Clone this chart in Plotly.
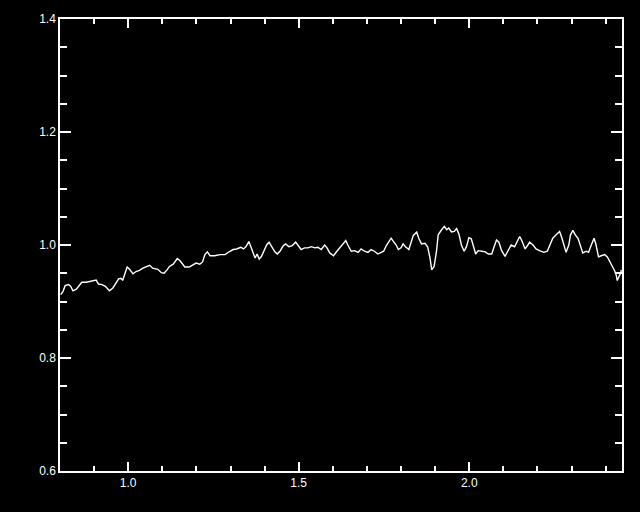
import plotly.graph_objects as go

wavelength = [0.802, 0.809, 0.815, 0.825, 0.831, 0.838, 0.848, 0.857, 0.864, 0.877,
              0.887, 0.896, 0.906, 0.913, 0.923, 0.933, 0.945, 0.955, 0.965, 0.972,
              0.978, 0.984, 0.989, 0.997, 1.004, 1.014, 1.023, 1.033, 1.043, 1.056,
              1.063, 1.072, 1.087, 1.097, 1.105, 1.114, 1.121, 1.132, 1.144, 1.152,
              1.160, 1.166, 1.179, 1.189, 1.199, 1.210, 1.218, 1.225, 1.232, 1.240,
              1.254, 1.269, 1.284, 1.296, 1.308, 1.318, 1.330, 1.338, 1.345, 1.354,
              1.360, 1.367, 1.372, 1.378, 1.384, 1.391, 1.399, 1.406, 1.413, 1.421,
              1.430, 1.437, 1.445, 1.455, 1.462, 1.471, 1.481, 1.491, 1.498, 1.507,
              1.517, 1.527, 1.537, 1.547, 1.556, 1.566, 1.576, 1.583, 1.591, 1.602,
              1.612, 1.622, 1.630, 1.638, 1.644, 1.654, 1.664, 1.674, 1.683, 1.693,
              1.703, 1.712, 1.722, 1.732, 1.742, 1.749, 1.757, 1.765, 1.771, 1.778,
              1.786, 1.792, 1.800, 1.806, 1.813, 1.823, 1.831, 1.836, 1.846, 1.852,
              1.860, 1.870, 1.878, 1.885, 1.890, 1.897, 1.904, 1.909, 1.919, 1.927,
              1.934, 1.940, 1.948, 1.956, 1.963, 1.970, 1.977, 1.985, 1.992, 1.999,
              2.006, 2.012, 2.019, 2.026, 2.036, 2.046, 2.056, 2.066, 2.073, 2.080,
              2.087, 2.095, 2.105, 2.113, 2.119, 2.123, 2.133, 2.141, 2.148, 2.154,
              2.164, 2.172, 2.177, 2.187, 2.196, 2.206, 2.219, 2.229, 2.236, 2.245,
              2.255, 2.265, 2.272, 2.278, 2.284, 2.292, 2.297, 2.304, 2.311, 2.319,
              2.327, 2.333, 2.343, 2.350, 2.358, 2.366, 2.372, 2.379, 2.387, 2.397,
              2.405, 2.412, 2.418, 2.426, 2.431, 2.434, 2.439, 2.444, 2.446]

flux = [0.912, 0.918, 0.928, 0.930, 0.927, 0.919, 0.922, 0.930, 0.934, 0.934,
        0.935, 0.937, 0.938, 0.931, 0.930, 0.927, 0.919, 0.924, 0.934, 0.940,
        0.941, 0.938, 0.947, 0.961, 0.957, 0.949, 0.953, 0.955, 0.959, 0.963,
        0.964, 0.959, 0.957, 0.951, 0.950, 0.956, 0.962, 0.966, 0.976, 0.972,
        0.965, 0.961, 0.961, 0.964, 0.968, 0.966, 0.970, 0.983, 0.988, 0.981,
        0.981, 0.983, 0.983, 0.988, 0.992, 0.993, 0.996, 0.993, 0.997, 1.006,
        0.995, 0.983, 0.977, 0.984, 0.975, 0.980, 0.990, 1.000, 1.005, 0.997,
        0.988, 0.984, 0.989, 0.999, 1.002, 0.997, 0.999, 1.005, 1.000, 0.992,
        0.995, 0.995, 0.997, 0.995, 0.996, 0.992, 1.000, 0.995, 0.986, 0.981,
        0.989, 0.996, 1.003, 1.008, 1.000, 0.989, 0.990, 0.987, 0.993, 0.989,
        0.987, 0.992, 0.989, 0.984, 0.987, 0.989, 0.999, 1.006, 1.012, 1.006,
        1.000, 0.992, 0.995, 1.002, 0.997, 0.992, 1.006, 1.017, 1.023, 1.012,
        1.002, 1.003, 0.997, 0.977, 0.956, 0.962, 0.989, 1.018, 1.027, 1.033,
        1.027, 1.030, 1.023, 1.024, 1.029, 1.019, 1.000, 0.989, 0.997, 1.013,
        1.011, 0.997, 0.984, 0.990, 0.989, 0.988, 0.984, 0.984, 0.997, 1.009,
        1.005, 0.990, 0.980, 0.990, 0.997, 1.000, 0.997, 1.006, 1.015, 1.008,
        0.993, 1.000, 1.005, 1.000, 0.993, 0.990, 0.987, 0.989, 1.000, 1.012,
        1.018, 1.024, 1.012, 0.997, 0.987, 1.000, 1.018, 1.026, 1.018, 1.012,
        0.995, 0.986, 0.989, 0.987, 1.000, 1.012, 1.000, 0.979, 0.981, 0.983,
        0.979, 0.971, 0.965, 0.955, 0.947, 0.937, 0.944, 0.950, 0.956]

x_range = [0.8, 2.448]
y_range = [0.6, 1.4]

fig = go.Figure()
fig.add_trace(go.Scatter(x=wavelength, y=flux, mode="lines",
                         line=dict(color="white", width=1.4), hoverinfo="skip"))

font = dict(family="Liberation Sans, Arial, sans-serif", size=12, color="white")

fig.update_layout(
    width=640, height=512,
    margin=dict(l=60, r=18, t=19, b=41),
    paper_bgcolor="black", plot_bgcolor="black",
    showlegend=False, font=font,
    xaxis=dict(range=x_range, showgrid=False, zeroline=False,
               showline=True, linecolor="white", linewidth=1.5, mirror="allticks",
               ticks="inside", ticklen=9, tickcolor="white", tickwidth=1.5,
               tick0=0, dtick=0.5, tickformat=".1f", tickfont=font,
               minor=dict(ticks="inside", ticklen=5, tickcolor="white", tickwidth=1.5,
                          tick0=0, dtick=0.1, showgrid=False)),
    yaxis=dict(range=y_range, showgrid=False, zeroline=False,
               showline=True, linecolor="white", linewidth=1.5, mirror="allticks",
               ticks="inside", ticklen=11, tickcolor="white", tickwidth=1.5,
               tick0=0, dtick=0.2, tickformat=".1f", tickfont=font,
               minor=dict(ticks="inside", ticklen=7, tickcolor="white", tickwidth=1.5,
                          tick0=0, dtick=0.05, showgrid=False)),
)

fig.write_html(
    "out.html",
    config={"displayModeBar": False},
    post_script="document.body.style.margin='0';document.body.style.background='black';",
)
